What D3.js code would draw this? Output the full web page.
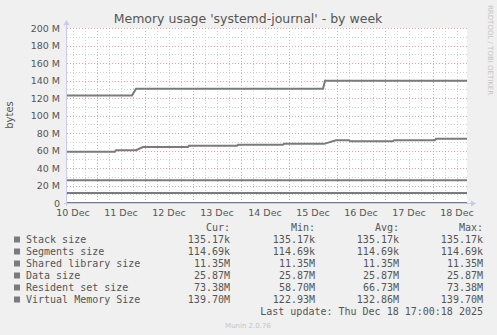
<!DOCTYPE html>
<html>
<head>
<meta charset="utf-8">
<script src="https://cdn.jsdelivr.net/npm/d3@7"></script>
<style>
  body { margin: 0; background: #f0f0f0; }
  svg { display: block; }
  text { font-family: "DejaVu Sans", sans-serif; fill: #555; }
  .mono { font-family: "DejaVu Sans Mono", monospace; font-size: 10px; fill: #555; }
</style>
</head>
<body>
<div id="vis"></div>
<script>
// values in M (1e6 bytes), times in UTC
const seriesNames = ["Stack size", "Segments size", "Shared library size", "Data size", "Resident set size", "Virtual Memory Size"]
const curVals = ["135.17k", "114.69k", "11.35M", "25.87M", "73.38M", "139.70M"]
const minVals = ["135.17k", "114.69k", "11.35M", "25.87M", "58.70M", "122.93M"]
const avgVals = ["135.17k", "114.69k", "11.35M", "25.87M", "66.73M", "132.86M"]
const maxVals = ["135.17k", "114.69k", "11.35M", "25.87M", "73.38M", "139.70M"]

const stackSize = [["2025-12-10T09:00", 0.135], ["2025-12-18T17:00", 0.135]]
const segmentsSize = [["2025-12-10T09:00", 0.115], ["2025-12-18T17:00", 0.115]]
const sharedLib = [["2025-12-10T09:00", 11.35], ["2025-12-18T17:00", 11.35]]
const dataSize = [["2025-12-10T09:00", 25.87], ["2025-12-18T17:00", 25.87]]
const residentSet = [
  ["2025-12-10T09:00", 58.7], ["2025-12-11T09:00", 58.7], ["2025-12-11T09:30", 60.4],
  ["2025-12-11T19:30", 60.4], ["2025-12-11T23:00", 63.9], ["2025-12-12T21:30", 63.9],
  ["2025-12-12T22:00", 65.4], ["2025-12-13T22:00", 65.4], ["2025-12-13T22:30", 66.6],
  ["2025-12-14T21:00", 66.6], ["2025-12-14T21:30", 67.6], ["2025-12-15T17:30", 67.6],
  ["2025-12-15T23:30", 71.8], ["2025-12-16T06:00", 71.8], ["2025-12-16T06:30", 70.6],
  ["2025-12-17T04:00", 70.6], ["2025-12-17T04:30", 71.8], ["2025-12-18T01:00", 71.8],
  ["2025-12-18T01:30", 73.38], ["2025-12-18T17:00", 73.38]
]
const virtualMem = [
  ["2025-12-10T09:00", 122.93], ["2025-12-11T17:30", 122.93], ["2025-12-11T19:30", 130.6],
  ["2025-12-15T17:00", 130.6], ["2025-12-15T18:00", 139.7], ["2025-12-18T17:00", 139.7]
]
const allSeries = [stackSize, segmentsSize, sharedLib, dataSize, residentSet, virtualMem]
const yTicks = [0, 20, 40, 60, 80, 100, 120, 140, 160, 180, 200]

const W = 497, H = 335
const plot = {left: 67, right: 467, top: 28, bottom: 203}
const lineColor = "#7b7b7b"

const svg = d3.select("#vis").append("svg")
  .attr("width", W).attr("height", H)

svg.append("rect").attr("width", W).attr("height", H).attr("fill", "#f0f0f0")
svg.append("rect")
  .attr("x", plot.left).attr("y", plot.top)
  .attr("width", plot.right - plot.left).attr("height", plot.bottom - plot.top)
  .attr("fill", "#fff")

const parse = s => new Date(s + "Z")
const x = d3.scaleUtc()
  .domain([parse("2025-12-10T09:00"), parse("2025-12-18T17:00")])
  .range([plot.left, plot.right])
const y = d3.scaleLinear().domain([0, 200]).range([plot.bottom, plot.top])

// minor grid
const minorX = d3.utcHour.every(6).range(x.domain()[0], x.domain()[1]).filter(d => d.getUTCHours() != 0)
svg.selectAll(".vminor").data(minorX).enter().append("line")
  .attr("x1", d => Math.round(x(d)) + 0.5).attr("x2", d => Math.round(x(d)) + 0.5)
  .attr("y1", plot.top).attr("y2", plot.bottom)
  .attr("stroke", "#cfcfcf").attr("stroke-dasharray", "1,2")
svg.selectAll(".hminor").data(d3.range(10, 200, 20)).enter().append("line")
  .attr("x1", plot.left).attr("x2", plot.right)
  .attr("y1", d => Math.round(y(d)) + 0.5).attr("y2", d => Math.round(y(d)) + 0.5)
  .attr("stroke", "#cfcfcf").attr("stroke-dasharray", "1,2")

// major grid
const days = d3.utcDay.range(x.domain()[0], x.domain()[1])
svg.selectAll(".vmajor").data(days).enter().append("line")
  .attr("x1", d => Math.round(x(d)) + 0.5).attr("x2", d => Math.round(x(d)) + 0.5)
  .attr("y1", plot.top).attr("y2", plot.bottom)
  .attr("stroke", "#eaa0a0").attr("stroke-dasharray", "1,2")
svg.selectAll(".hmajor").data(yTicks.filter(d => d > 0)).enter().append("line")
  .attr("x1", plot.left).attr("x2", plot.right + 2)
  .attr("y1", d => Math.round(y(d)) + 0.5).attr("y2", d => Math.round(y(d)) + 0.5)
  .attr("stroke", "#eaa0a0").attr("stroke-dasharray", "1,2")

// series
const line = d3.line().x(d => x(parse(d[0]))).y(d => y(d[1]))
svg.selectAll(".series").data(allSeries).enter().append("path")
  .attr("d", line)
  .attr("fill", "none")
  .attr("stroke", lineColor)
  .attr("stroke-width", 2)

// axes
const axisColor = "#c8c8f0"
svg.append("line").attr("x1", plot.left - 0.5).attr("x2", plot.left - 0.5)
  .attr("y1", plot.bottom + 3).attr("y2", plot.top - 5).attr("stroke", axisColor)
svg.append("line").attr("x1", plot.left - 3).attr("x2", plot.right + 5)
  .attr("y1", plot.bottom + 0.5).attr("y2", plot.bottom + 0.5).attr("stroke", axisColor)
svg.append("path")
  .attr("d", `M${plot.left - 3.5},${plot.top - 3} L${plot.left - 0.5},${plot.top - 8} L${plot.left + 2.5},${plot.top - 3} Z`)
  .attr("fill", axisColor)
svg.append("path")
  .attr("d", `M${plot.right + 4},${plot.bottom - 2.5} L${plot.right + 9},${plot.bottom + 0.5} L${plot.right + 4},${plot.bottom + 3.5} Z`)
  .attr("fill", axisColor)

// y tick labels
svg.selectAll(".ylab").data(yTicks).enter().append("text")
  .attr("x", plot.left - 7).attr("y", d => y(d) + 3.5)
  .attr("text-anchor", "end").style("font-size", "9.5px")
  .text(d => d == 0 ? "0" : d + " M")

// x tick labels at noon
const fmt = d3.utcFormat("%d %b")
const noons = d3.utcHour.every(24).range(x.domain()[0], x.domain()[1])
  .map(d => d3.utcHour.offset(d3.utcDay.floor(d), 12))
  .filter(d => d >= x.domain()[0] && d <= x.domain()[1])
svg.selectAll(".xlab").data([parse("2025-12-10T12:00")].concat(days.map(d => d3.utcHour.offset(d, 12))).filter(d => d <= x.domain()[1]))
  .enter().append("text")
  .attr("x", d => x(d)).attr("y", plot.bottom + 13)
  .attr("text-anchor", "middle").style("font-size", "9.5px")
  .text(d => fmt(d))

// title and labels
svg.append("text").attr("x", 248).attr("y", 23)
  .attr("text-anchor", "middle").style("font-size", "12.5px")
  .text("Memory usage 'systemd-journal' - by week")
svg.append("text").attr("transform", "translate(13,115) rotate(-90)")
  .attr("text-anchor", "middle").style("font-size", "10px")
  .text("bytes")
svg.append("text").attr("transform", "translate(488,5) rotate(90)")
  .attr("text-anchor", "start").style("font-size", "7px").style("fill", "#c4c4c4")
  .text("RRDTOOL / TOBI OETIKER")

// legend
const headers = [["Cur:", 230], ["Min:", 315], ["Avg:", 399], ["Max:", 483]]
svg.selectAll(".hdr").data(headers).enter().append("text")
  .attr("class", "mono").attr("x", d => d[1]).attr("y", 231)
  .attr("text-anchor", "end").text(d => d[0])

const rowY = i => 243 + i * 12
seriesNames.forEach((name, i) => {
  svg.append("rect").attr("x", 14).attr("y", rowY(i) - 6.5)
    .attr("width", 6).attr("height", 6).attr("fill", lineColor)
  svg.append("text").attr("class", "mono").attr("x", 26).attr("y", rowY(i)).text(name)
  ;[[curVals, 230], [minVals, 315], [avgVals, 399], [maxVals, 483]].forEach(([vals, xr]) => {
    svg.append("text").attr("class", "mono").attr("x", xr).attr("y", rowY(i))
      .attr("text-anchor", "end").text(vals[i])
  })
})

svg.append("text").attr("class", "mono").attr("x", 483).attr("y", 315)
  .attr("text-anchor", "end").text("Last update: Thu Dec 18 17:00:18 2025")
svg.append("text").attr("x", 248).attr("y", 328)
  .attr("text-anchor", "middle").style("font-size", "7px").style("fill", "#c4c4c4")
  .text("Munin 2.0.76")
</script>
</body>
</html>
